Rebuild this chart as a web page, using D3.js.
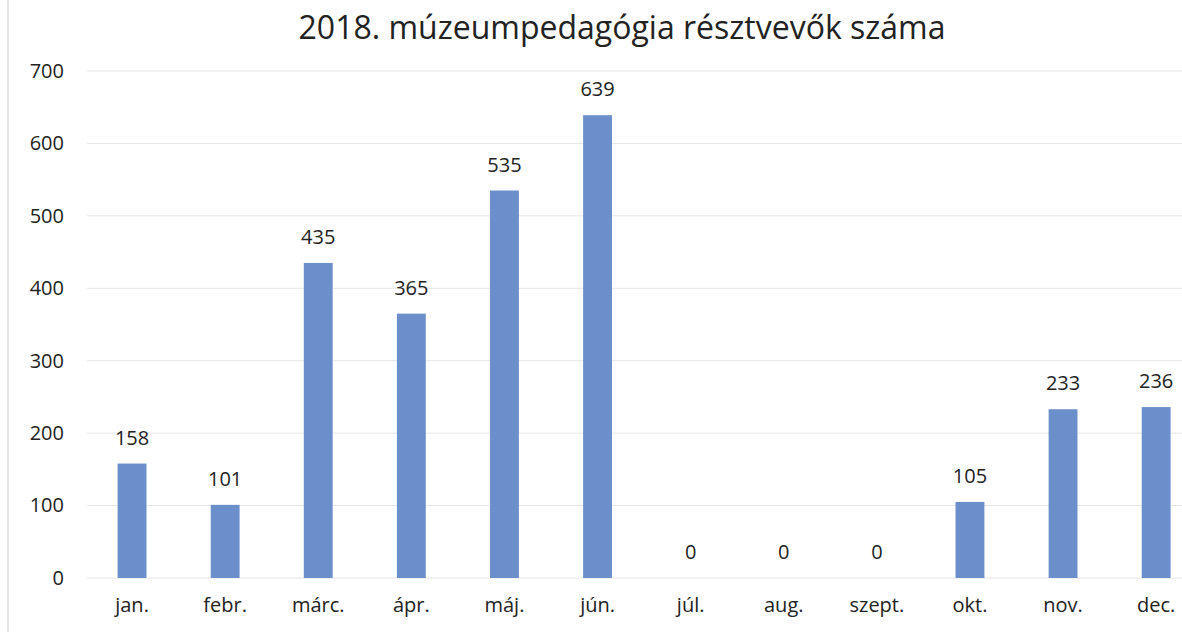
<!DOCTYPE html>
<html>
<head>
<meta charset="utf-8">
<script src="https://cdn.jsdelivr.net/npm/d3@7"></script>
<style>
  body { margin: 0; background: #fff; }
  text { font-family: "Open Sans", sans-serif; fill: #222; }
</style>
</head>
<body>
<div id="chart"></div>
<script>
// data
const months = ["jan.", "febr.", "márc.", "ápr.", "máj.", "jún.", "júl.", "aug.", "szept.", "okt.", "nov.", "dec."];
const participants = [158, 101, 435, 365, 535, 639, 0, 0, 0, 105, 233, 236];
const yTicks = [0, 100, 200, 300, 400, 500, 600, 700];
const title = "2018. múzeumpedagógia résztvevők száma";

const width = 1182, height = 632;
const font = "'Open Sans', sans-serif";

const svg = d3.select("#chart")
  .append("svg")
  .attr("width", width)
  .attr("height", height);

// faint scan edge on the left
svg.append("line")
  .attr("x1", 8).attr("x2", 8)
  .attr("y1", 0).attr("y2", height)
  .attr("stroke", "#e4e4e4")
  .attr("stroke-width", 2);

const x = d3.scaleBand()
  .domain(months)
  .range([85.5, 1202.7])
  .paddingInner(0.69)
  .paddingOuter(0.345);

const y = d3.scaleLinear()
  .domain([0, 700])
  .range([578, 71]);

// gridlines
svg.append("g")
  .selectAll("line")
  .data(yTicks)
  .join("line")
  .attr("x1", 87)
  .attr("x2", width)
  .attr("y1", d => y(d))
  .attr("y2", d => y(d))
  .attr("stroke", "#e6e6e6")
  .attr("stroke-width", 1);

// y axis labels
const yAxis = svg.append("g")
  .attr("transform", "translate(64,0)")
  .call(d3.axisLeft(y).tickValues(yTicks).tickSize(0).tickPadding(0));
yAxis.select(".domain").remove();
yAxis.selectAll("text")
  .attr("font-size", 20)
  .attr("font-family", font)
  .attr("fill", "#222");

// x axis labels
const xAxis = svg.append("g")
  .attr("transform", "translate(0,598)")
  .call(d3.axisBottom(x).tickSize(0).tickPadding(0));
xAxis.select(".domain").remove();
xAxis.selectAll("text")
  .attr("font-size", 20)
  .attr("font-family", font)
  .attr("fill", "#222");

// bars
svg.append("g")
  .selectAll("rect")
  .data(participants)
  .join("rect")
  .attr("x", (d, i) => x(months[i]))
  .attr("y", d => y(d))
  .attr("width", x.bandwidth())
  .attr("height", d => y(0) - y(d))
  .attr("fill", "#6b8fca");

// value labels
svg.append("g")
  .selectAll("text")
  .data(participants)
  .join("text")
  .attr("x", (d, i) => x(months[i]) + x.bandwidth() / 2)
  .attr("y", d => y(d) - 19)
  .attr("text-anchor", "middle")
  .attr("font-size", 20)
  .text(d => d);

// title
svg.append("text")
  .attr("x", 622)
  .attr("y", 39)
  .attr("text-anchor", "middle")
  .attr("font-size", 32)
  .text(title);
</script>
</body>
</html>
